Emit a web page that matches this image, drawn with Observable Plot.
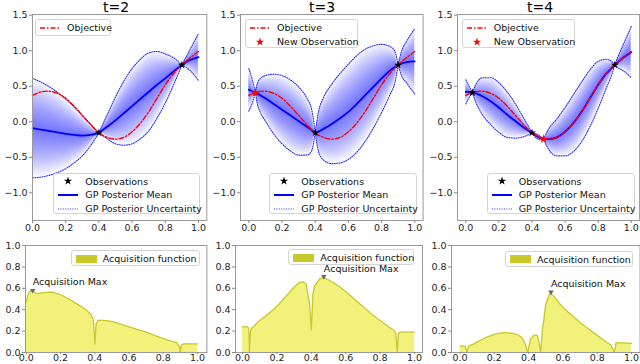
<!DOCTYPE html>
<html><head><meta charset="utf-8">
<script src="https://cdn.jsdelivr.net/npm/d3@7"></script>
<script src="https://cdn.jsdelivr.net/npm/@observablehq/plot@0.6"></script>
<style>
body{margin:0;background:#fff;}
#root{position:relative;width:640px;height:364px;overflow:hidden;font-family:"DejaVu Sans",sans-serif;background:#fff;}
.title{position:absolute;font-size:14px;line-height:14px;color:#000;transform:translateX(-50%);white-space:nowrap;}
.leg{position:absolute;background:rgba(255,255,255,0.85);border:1px solid #d4d4d4;border-radius:3px;font-size:9.5px;color:#111;box-sizing:border-box;}
.row{position:absolute;left:0;height:12px;display:flex;align-items:center;white-space:nowrap;}
</style></head>
<body><div id="root"></div>
<script>
// ---------- data ----------
const objectiveX = [0,0.05,0.1,0.15,0.2,0.25,0.3,0.35,0.4,0.45,0.5,0.55,0.6,0.65,0.7,0.75,0.8,0.85,0.9,0.95,1.0];
const objectiveY = [0.37,0.42,0.43,0.40,0.33,0.22,0.09,-0.04,-0.155,-0.22,-0.245,-0.22,-0.14,-0.02,0.14,0.33,0.52,0.68,0.80,0.90,0.99];

// t=2
const t2X    = [0,0.05,0.1,0.15,0.2,0.25,0.3,0.35,0.4,0.45,0.5,0.55,0.6,0.65,0.7,0.75,0.8,0.85,0.9,0.95,1.0];
const t2Mean = [-0.09,-0.11,-0.13,-0.15,-0.17,-0.185,-0.195,-0.185,-0.155,-0.07,0.02,0.12,0.22,0.32,0.42,0.52,0.61,0.71,0.80,0.87,0.91];
const t2Sd   = [0.70,0.67,0.625,0.565,0.49,0.395,0.285,0.15,0,0.17,0.33,0.45,0.53,0.56,0.55,0.47,0.345,0.19,0,0.15,0.33];
const t2ObsX = [0.4,0.9];
const t2ObsY = [-0.155,0.80];
const t2NewX = [];
const t2NewY = [];

// t=3
const t3X    = [0,0.02,0.04,0.05,0.07,0.1,0.15,0.2,0.25,0.3,0.35,0.38,0.4,0.42,0.45,0.5,0.55,0.6,0.65,0.7,0.75,0.8,0.85,0.88,0.9,0.92,0.95,1.0];
const t3Mean = [0.45,0.43,0.41,0.40,0.37,0.33,0.25,0.17,0.09,0.01,-0.07,-0.12,-0.155,-0.14,-0.10,-0.03,0.05,0.14,0.25,0.37,0.49,0.61,0.72,0.77,0.80,0.82,0.84,0.85];
const t3Sd   = [0.30,0.17,0,0.13,0.24,0.32,0.42,0.48,0.50,0.48,0.40,0.28,0,0.28,0.44,0.56,0.63,0.67,0.68,0.65,0.58,0.48,0.34,0.22,0,0.17,0.29,0.46];
const t3ObsX = [0.4,0.9];
const t3ObsY = [-0.155,0.80];
const t3NewX = [0.04];
const t3NewY = [0.41];

// t=4
const t4X    = [0,0.02,0.04,0.06,0.1,0.15,0.2,0.25,0.3,0.35,0.4,0.42,0.45,0.47,0.5,0.55,0.6,0.65,0.7,0.75,0.8,0.85,0.88,0.9,0.92,0.95,1.0];
const t4Mean = [0.42,0.42,0.41,0.40,0.36,0.29,0.20,0.10,0.01,-0.08,-0.155,-0.19,-0.23,-0.245,-0.245,-0.22,-0.14,-0.02,0.14,0.33,0.52,0.68,0.75,0.80,0.84,0.90,0.98];
const t4Sd   = [0.17,0.08,0,0.12,0.26,0.33,0.35,0.32,0.24,0.13,0,0.025,0.025,0,0.14,0.26,0.34,0.40,0.42,0.40,0.33,0.20,0.10,0,0.08,0.18,0.36];
const t4ObsX = [0.04,0.4,0.9];
const t4ObsY = [0.41,-0.155,0.80];
const t4NewX = [0.47];
const t4NewY = [-0.245];

// acquisition functions
const acq1X = [0,0.01,0.02,0.04,0.06,0.1,0.15,0.2,0.25,0.3,0.35,0.38,0.392,0.4,0.408,0.42,0.45,0.5,0.6,0.7,0.8,0.88,0.895,0.9,0.905,0.92,1.0];
const acq1Y = [0.47,0.54,0.57,0.575,0.55,0.56,0.565,0.54,0.50,0.45,0.40,0.35,0.30,0.08,0.27,0.30,0.30,0.29,0.24,0.19,0.13,0.09,0.05,0.0,0.07,0.08,0.08];
const acq1MaxX = [0.037];
const acq1MaxY = [0.58];

const acq2X = [0,0.03,0.036,0.04,0.045,0.05,0.1,0.15,0.2,0.25,0.3,0.33,0.35,0.37,0.39,0.40,0.41,0.42,0.45,0.47,0.5,0.55,0.6,0.65,0.7,0.75,0.8,0.85,0.88,0.892,0.9,0.906,0.92,0.95,1.0];
const acq2Y = [0.24,0.24,0.22,0.0,0.18,0.22,0.30,0.36,0.43,0.52,0.61,0.655,0.66,0.64,0.45,0.21,0.55,0.62,0.69,0.70,0.68,0.63,0.57,0.50,0.43,0.36,0.30,0.24,0.21,0.17,0.0,0.18,0.19,0.19,0.19];
const acq2MaxX = [0.473];
const acq2MaxY = [0.71];

const acq3X = [0,0.03,0.04,0.05,0.08,0.15,0.2,0.25,0.3,0.33,0.36,0.38,0.395,0.41,0.43,0.45,0.46,0.47,0.48,0.5,0.52,0.53,0.55,0.6,0.65,0.7,0.75,0.8,0.85,0.88,0.9,0.91,0.95,1.0];
const acq3Y = [0.06,0.06,0.0,0.06,0.08,0.14,0.17,0.185,0.18,0.17,0.14,0.08,0.0,0.12,0.16,0.16,0.10,0.0,0.2,0.45,0.54,0.55,0.52,0.42,0.35,0.28,0.22,0.16,0.10,0.07,0.0,0.09,0.09,0.085];
const acq3MaxX = [0.53];
const acq3MaxY = [0.565];

const titles = ["t=2","t=3","t=4"];
const xTicks = [0,0.2,0.4,0.6,0.8,1.0];
const yTicksTop = [-1.0,-0.5,0.0,0.5,1.0,1.5];
const yTicksBot = [0,0.2,0.4,0.6,0.8,1.0];

// ---------- helpers ----------
const root = document.getElementById("root");
const fmt = d3.format(".1f");
const objRows = objectiveX.map((x,i)=>({x, y:objectiveY[i]}));

function buildRows(xs, means, sds, obs){
  const rows=[];
  xs.forEach((x,i)=>{
    const seg = obs.filter(o=>o < x-1e-9).length;
    rows.push({x, mean:means[i], sd:sds[i], seg});
    if (obs.some(o=>Math.abs(o-x)<1e-9)) rows.push({x, mean:means[i], sd:sds[i], seg:seg+1});
  });
  return rows;
}
function place(el, left, top){ el.style.position="absolute"; el.style.left=left+"px"; el.style.top=top+"px"; root.append(el); }

const ML=34, MR=2, MT=2, MB=20;
const UNC = "#2a2aff";
function topPanel(frame, domain, X, M, S, obsX, obsY, newX, newY){
  const allObs = obsX.concat(newX);
  const rows = buildRows(X, M, S, allObs);
  const N = 22, bands = [];
  for (let k=1;k<=N;k++){
    const f=k/N;
    bands.push(Plot.areaY(rows,{x:"x", y1:d=>d.mean-f*d.sd, y2:d=>d.mean+f*d.sd, z:"seg", fill:"#0000ff", fillOpacity:0.032, curve:"monotone-x"}));
  }
  const obsRows = obsX.map((x,i)=>({x,y:obsY[i]}));
  const newRows = newX.map((x,i)=>({x,y:newY[i]}));
  const w = frame[1]-frame[0];
  const svg = Plot.plot({
    width: w+ML+MR, height: 206+MT+MB,
    marginLeft:ML, marginRight:MR, marginTop:MT, marginBottom:MB,
    style:{fontFamily:"DejaVu Sans", fontSize:"9.5px", color:"#222", background:"transparent", overflow:"visible"},
    x:{domain, label:null}, y:{domain:[-1.39,1.51], label:null},
    marks:[
      ...bands,
      Plot.line(rows,{x:"x", y:d=>d.mean+d.sd, z:"seg", stroke:UNC, strokeWidth:1.1, strokeDasharray:"1,1.4", curve:"monotone-x"}),
      Plot.line(rows,{x:"x", y:d=>d.mean-d.sd, z:"seg", stroke:UNC, strokeWidth:1.1, strokeDasharray:"1,1.4", curve:"monotone-x"}),
      Plot.line(rows,{x:"x", y:"mean", z:"seg", stroke:"#0000ff", strokeWidth:1.8, curve:"monotone-x"}),
      Plot.line(objRows,{x:"x", y:"y", stroke:"#ff0000", strokeWidth:1.4, strokeDasharray:"5,2,1.5,2", curve:"catmull-rom"}),
      Plot.dot(obsRows,{x:"x", y:"y", symbol:"star", r:2.5, fill:"#000"}),
      Plot.dot(newRows,{x:"x", y:"y", symbol:"star", r:2.9, fill:"#ff0000"}),
      Plot.frame({stroke:"#999"}),
      Plot.axisX({ticks:xTicks, tickFormat:fmt, tickSize:3, tickPadding:1, stroke:"#888", label:null}),
      Plot.axisY({ticks:yTicksTop, tickFormat:fmt, tickSize:3, tickPadding:2, stroke:"#888", label:null})
    ]
  });
  place(svg, frame[0]-ML, 14-MT);
}

const BT = 244.5, BH = 107;
function botPanel(frame, domain, X, Y, mx, my){
  const rows = X.map((x,i)=>({x,y:Y[i]}));
  const maxRows = mx.map((x,i)=>({x,y:my[i]}));
  const w = frame[1]-frame[0];
  const svg = Plot.plot({
    width: w+ML+MR, height: BH+MT+MB,
    marginLeft:ML, marginRight:MR, marginTop:MT, marginBottom:MB,
    style:{fontFamily:"DejaVu Sans", fontSize:"9.5px", color:"#222", background:"transparent", overflow:"visible"},
    x:{domain, label:null}, y:{domain:[0,1], label:null},
    marks:[
      Plot.areaY(rows,{x:"x", y:"y", fill:"#f2f27a"}),
      Plot.line(rows,{x:"x", y:"y", stroke:"#c8c832", strokeWidth:1.3}),
      Plot.dot(maxRows,{x:"x", y:"y", symbol:"triangle", rotate:180, r:2, fill:"#666"}),
      Plot.text(maxRows,{x:"x", y:"y", text:()=>"Acquisition Max", textAnchor:"start", dy:-8, fontSize:9.5, fill:"#111"}),
      Plot.frame({stroke:"#999"}),
      Plot.axisX({ticks:xTicks, tickFormat:fmt, tickSize:2, tickPadding:0, stroke:"#888", label:null}),
      Plot.axisY({ticks:yTicksBot, tickFormat:fmt, tickSize:3, tickPadding:2, stroke:"#888", label:null})
    ]
  });
  place(svg, frame[0]-ML, BT-MT);
}

const starPath = d3.symbol(d3.symbolStar, 22)();
function swatch(t){
  if (t==="obj") return '<line x1="0" y1="6" x2="20" y2="6" stroke="#f00" stroke-width="1.5" stroke-dasharray="5,2,1.5,2"/>';
  if (t==="mean") return '<line x1="0" y1="6" x2="20" y2="6" stroke="#00f" stroke-width="2"/>';
  if (t==="unc") return `<line x1="0" y1="6" x2="20" y2="6" stroke="${UNC}" stroke-width="1.1" stroke-dasharray="1,1.4"/>`;
  if (t==="obs") return `<path transform="translate(10,6)" d="${starPath}" fill="#000"/>`;
  if (t==="new") return `<path transform="translate(10,6)" d="${starPath}" fill="#f00"/>`;
  if (t==="acq") return '<rect x="0" y="2" width="21" height="8" fill="#c9c92e"/>';
}
function legend(left, top, w, h, entries){
  const box = document.createElement("div");
  box.className="leg";
  box.style.left=left+"px"; box.style.top=top+"px"; box.style.width=w+"px"; box.style.height=h+"px";
  entries.forEach(e=>{
    const r = document.createElement("div");
    r.className="row"; r.style.top=(e[2]-6)+"px";
    r.innerHTML = `<svg width="22" height="12" style="margin-left:4px;overflow:visible">${swatch(e[0])}</svg><span style="margin-left:5px">${e[1]}</span>`;
    box.append(r);
  });
  root.append(box);
}
function title(text, cx){
  const d=document.createElement("div"); d.className="title"; d.textContent=text;
  d.style.left=cx+"px"; d.style.top="0px"; root.append(d);
}

// ---------- layout ----------
const topFrames = [[32,206.3],[239.7,422.3],[457.4,639.5]];
const topDomains = [[0,1.05],[-0.05,1.05],[-0.05,1.05]];
const botFrames = [[25.3,206.7],[235,422],[450.7,639.3]];
const botDomains = [[-0.005,1.055],[-0.041,1.047],[-0.05,1.05]];

topPanel(topFrames[0], topDomains[0], t2X, t2Mean, t2Sd, t2ObsX, t2ObsY, t2NewX, t2NewY);
topPanel(topFrames[1], topDomains[1], t3X, t3Mean, t3Sd, t3ObsX, t3ObsY, t3NewX, t3NewY);
topPanel(topFrames[2], topDomains[2], t4X, t4Mean, t4Sd, t4ObsX, t4ObsY, t4NewX, t4NewY);
botPanel(botFrames[0], botDomains[0], acq1X, acq1Y, acq1MaxX, acq1MaxY);
botPanel(botFrames[1], botDomains[1], acq2X, acq2Y, acq2MaxX, acq2MaxY);
botPanel(botFrames[2], botDomains[2], acq3X, acq3Y, acq3MaxX, acq3MaxY);

title(titles[0], 116); title(titles[1], 322); title(titles[2], 540);

legend(35, 19, 76, 17, [["obj","Objective",7.5]]);
legend(245, 19, 113, 29, [["obj","Objective",7.5],["new","New Observation",21.5]]);
legend(461.7, 19, 113.3, 29, [["obj","Objective",7.5],["new","New Observation",21.5]]);
const lowerEntries = [["obs","Observations",7.5],["mean","GP Posterior Mean",21],["unc","GP Posterior Uncertainty",35]];
legend(53.3, 172.7, 146.7, 41.3, lowerEntries);
legend(269.3, 172.7, 148, 41.3, lowerEntries);
legend(486.7, 172.7, 148.3, 41.3, lowerEntries);
legend(70.7, 250, 129.3, 16, [["acq","Acquisition function",7.5]]);
legend(288.3, 249, 125.7, 16, [["acq","Acquisition function",7.5]]);
legend(505, 250.5, 128.3, 16, [["acq","Acquisition function",7.5]]);
</script></body></html>
